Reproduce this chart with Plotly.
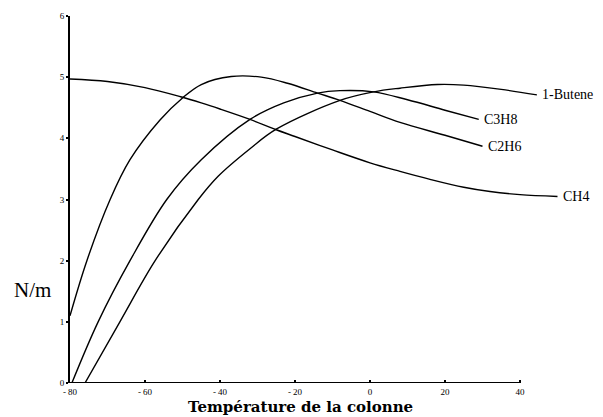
import plotly.graph_objects as go

# Data
ch4_x = [-80, -70, -60, -50.5, -45, -40, -32, -25, -20, -10, 0, 8, 16, 25, 32, 40, 50]
ch4_y = [4.97, 4.93, 4.83, 4.68, 4.58, 4.48, 4.31, 4.14, 4.03, 3.81, 3.60, 3.46, 3.33, 3.20, 3.13, 3.08, 3.05]

c2h6_x = [-80, -75.5, -69.3, -64, -56, -50, -45, -37, -29, -22, -14, -8, 0, 8, 20, 30]
c2h6_y = [1.10, 2.00, 3.00, 3.65, 4.30, 4.66, 4.88, 5.01, 5.00, 4.90, 4.74, 4.62, 4.44, 4.26, 4.05, 3.87]

c3h8_x = [-79.5, -72.5, -64, -54.2, -45, -32, -23, -14, -8, 1, 10, 20, 29]
c3h8_y = [0.00, 1.00, 2.00, 3.00, 3.65, 4.31, 4.58, 4.74, 4.78, 4.76, 4.63, 4.46, 4.31]

butene_x = [-76, -66.7, -57.3, -45.8, -40.5, -32, -25, -8, 1, 8, 18, 25, 35, 44.5]
butene_y = [0.00, 1.00, 2.00, 3.00, 3.38, 3.83, 4.15, 4.62, 4.76, 4.82, 4.88, 4.87, 4.80, 4.71]

series_names = ["CH4", "C2H6", "C3H8", "1-Butene"]
series_x = [ch4_x, c2h6_x, c3h8_x, butene_x]
series_y = [ch4_y, c2h6_y, c3h8_y, butene_y]

x_tickvals = [-80, -60, -40, -20, 0, 20, 40]
x_ticktext = ["- 80", "- 60", "- 40", "- 20", "0", "20", "40"]
y_tickvals = [0, 1, 2, 3, 4, 5, 6]

x_title = "Température de la colonne"
y_title = "N/m"

SERIF = "Liberation Serif"

fig = go.Figure()
for name, xs, ys in zip(series_names, series_x, series_y):
    fig.add_trace(go.Scatter(
        x=xs, y=ys, mode="lines", name=name,
        line=dict(color="black", width=1.4, shape="spline", smoothing=1.0),
        showlegend=False, hoverinfo="skip",
    ))
    fig.add_annotation(
        x=xs[-1], y=ys[-1], text=name, showarrow=False,
        xanchor="left", yanchor="middle", xshift=3, yshift=0,
        font=dict(family=SERIF, size=14, color="black"),
    )

# x axis line only from -80 to 40
fig.add_shape(type="line", xref="x", yref="y",
              x0=x_tickvals[0], x1=x_tickvals[-1], y0=0, y1=0,
              line=dict(color="black", width=2))

fig.add_annotation(
    xref="paper", yref="y", x=-0.118, y=1.52, text=y_title, showarrow=False,
    xanchor="left", yanchor="middle",
    font=dict(family=SERIF, size=21, color="black"),
)
fig.add_annotation(
    xref="paper", yref="paper", x=0.465, y=-0.0926, text="<b>" + x_title + "</b>",
    showarrow=False, xanchor="center", yanchor="bottom", borderpad=0,
    font=dict(family="DejaVu Serif", size=15, color="black"),
)

# page body has an 8px margin, so figure is offset by 8px
fig.update_layout(
    width=595, height=409,
    margin=dict(l=62, r=38, t=8, b=34),
    paper_bgcolor="white", plot_bgcolor="white",
    xaxis=dict(
        range=[-80, 52], tickvals=x_tickvals, ticktext=x_ticktext,
        showgrid=False, zeroline=False, showline=False, automargin=False,
        ticks="inside", ticklen=3, tickwidth=2, tickcolor="black",
        ticklabelstandoff=2,
        tickfont=dict(family=SERIF, size=9, color="black"),
    ),
    yaxis=dict(
        range=[0, 6], tickvals=y_tickvals, automargin=False,
        showgrid=False, zeroline=False, showline=True, linecolor="black", linewidth=2,
        ticks="outside", ticklen=2, tickwidth=2, tickcolor="black",
        tickfont=dict(family=SERIF, size=9, color="black"),
    ),
)

fig.write_html("out.html")
